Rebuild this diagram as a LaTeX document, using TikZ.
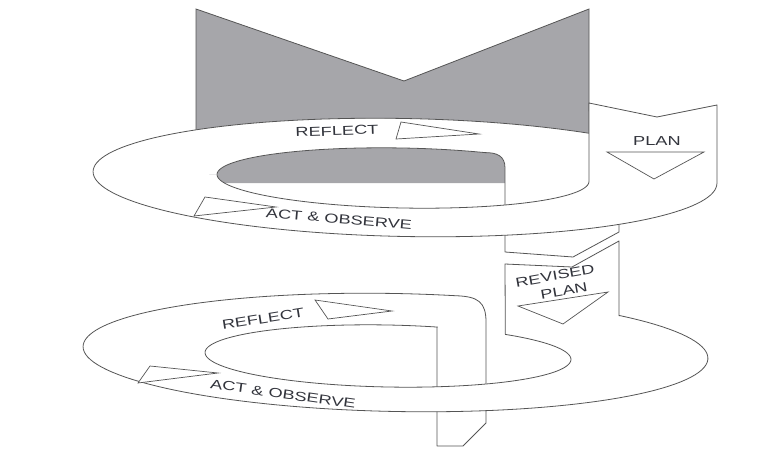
\documentclass[tikz,border=0pt]{standalone}
\usepackage{fontspec}
\setmainfont{Liberation Sans}
\usepackage{graphicx}
\definecolor{wallgray}{RGB}{166,166,170}
\definecolor{edge}{RGB}{85,85,85}
\definecolor{ink}{RGB}{50,52,60}
\newcommand{\wide}[1]{\scalebox{1.4}[1]{#1}}
\tikzset{
  band/.style={draw=edge,line width=0.8pt,fill=white,line join=round},
  tip/.style={draw=edge,line width=0.7pt,fill=white},
  tag/.style={font=\fontsize{13}{13}\selectfont,text=ink,inner sep=0pt,align=center}
}

\begin{document}
\begin{tikzpicture}[x=1pt,y=-1pt,
  declare function={
    elx(\ang,\cen,\rad,\sem)=\cen+\rad*cos(\ang)*cos(1.1)-\sem*sin(\ang)*sin(1.1);
    ely(\ang,\cen,\rad,\sem)=\cen+\rad*cos(\ang)*sin(1.1)+\sem*sin(\ang)*cos(1.1);}]
\useasboundingbox (0,0) rectangle (780,458);

% lower loop, back half running into the strip that goes down
\path[band] plot[domain=180:281,samples=50,variable=\t] ({elx(\t,395.5,312.5,59)},{ely(\t,352.5,312.5,59)})
  .. controls (478,296.5) and (486,302) .. (486,322) -- (486,423) -- (463,446) -- (437,446) -- (437,327)
  -- plot[domain=285.5:180,samples=50,variable=\t] ({elx(\t,388,183,31)},{ely(\t,356,183,31)});
% lower loop, front half with the revised plan strip
\path[band] plot[domain=180:-50.3,samples=90,variable=\t] ({elx(\t,388,183,31)},{ely(\t,356,183,31)})
  -- (505,264) -- (572,267) -- (619,241) -- (619,315.6)
  -- plot[domain=-44.3:180,samples=90,variable=\t] ({elx(\t,395.5,312.5,59)},{ely(\t,352.5,312.5,59)});

% grey wall behind the upper loop
\fill[wallgray] (196,9) -- (404,81) -- (589,9) -- (589,183) -- (196,183) -- cycle;
\draw[edge,line width=0.8pt] (196,183) -- (196,9) -- (404,81) -- (589,9) -- (589,183);

% upper loop, back half
\path[band] plot[domain=180:313,samples=60,variable=\t] ({elx(\t,405,312,59)},{ely(\t,177.5,312,59)})
  -- (619,140) -- (619,232) -- (573,257) -- (505,252) -- (505,168)
  .. controls (505,156) and (497,152.5) .. (485,152.6)
  -- plot[domain=296:180,samples=60,variable=\t] ({elx(\t,403,186,30)},{ely(\t,178,186,30)});
% upper loop, front half with the plan strip
\path[band] plot[domain=180:0,samples=80,variable=\t] ({elx(\t,403,186,30)},{ely(\t,178,186,30)})
  -- (589,103) -- (657,117) -- (717,105) -- (717,183.5)
  -- plot[domain=0:180,samples=80,variable=\t] ({elx(\t,405,312,59)},{ely(\t,177.5,312,59)});

% arrow heads
\draw[tip] (401,122) -- (396,139) -- (479,134) -- cycle;
\draw[tip] (205,197) -- (194,216) -- (276,207) -- cycle;
\draw[tip] (607,152) -- (704,152) -- (654,179) -- cycle;
\draw[tip] (315,300) -- (328,319) -- (392,311) -- cycle;
\draw[tip] (150,366) -- (138,383) -- (218,373) -- cycle;
\draw[tip] (518,306) -- (608,292) -- (563,324) -- cycle;

% labels
\node[tag,rotate=2] (reflectA) at (337,131) {\wide{REFLECT}};
\node[tag,rotate=-5] (actA) at (339,219) {\wide{ACT \& OBSERVE}};
\node[tag] (plan) at (657,141) {\wide{PLAN}};
\node[tag,rotate=9] (reflectB) at (263,319) {\wide{REFLECT}};
\node[tag,rotate=-8] (actB) at (283,394) {\wide{ACT \& OBSERVE}};
\node[tag,rotate=10] (revised) at (555,276) {\wide{REVISED}};
\node[tag,rotate=10] (revplan) at (564,291) {\wide{PLAN}};
\end{tikzpicture}
\end{document}
